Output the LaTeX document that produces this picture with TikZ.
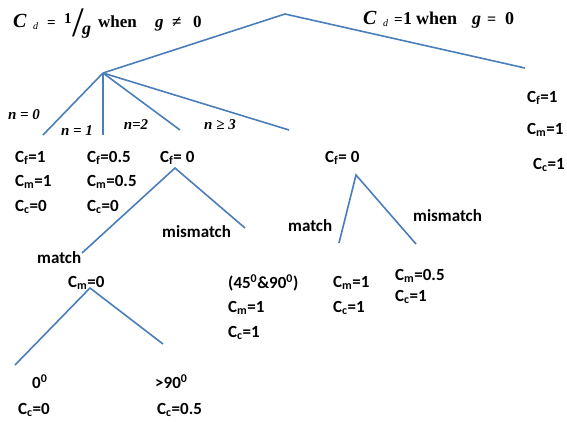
\documentclass[tikz,border=0pt]{standalone}
\usepackage{fontspec}
\setmainfont{Liberation Serif}
\newfontfamily\calfont{Carlito}
\definecolor{treeblue}{RGB}{74,126,187}
\newcommand\Csub[1]{C\textsubscript{#1}}
\begin{document}
\begin{tikzpicture}[x=1pt,y=-1pt,
  lbl/.style={font=\calfont\bfseries\fontsize{17}{19}\selectfont, inner sep=0pt, anchor=west},
  fb/.style={font=\bfseries\fontsize{#1}{#1}\selectfont, inner sep=0pt, anchor=base west},
  fbi/.style={font=\bfseries\itshape\fontsize{#1}{#1}\selectfont, inner sep=0pt, anchor=base west},
  nlb/.style={font=\bfseries\itshape\fontsize{15}{17}\selectfont, inner sep=0pt},
  edge/.style={draw=treeblue, line width=1.6pt}]
\useasboundingbox (0,0) rectangle (567,421);
% tree points
\coordinate (top) at (285,14);
\coordinate (L) at (103,73);
\coordinate (R) at (525,68);
\coordinate (n0) at (43,135);
\coordinate (n1) at (103,135);
\coordinate (n2) at (180,130);
\coordinate (n3) at (289,130);
\coordinate (A) at (175,168);
\coordinate (Am) at (82,253);
\coordinate (Ax) at (245,228);
\coordinate (B) at (90,288);
\coordinate (B0) at (15,365);
\coordinate (B9) at (163,344);
\coordinate (D) at (356,175);
\coordinate (Dm) at (339,243);
\coordinate (Dx) at (416,244);
% edges
\draw[edge] (L) -- (top) -- (R);
\draw[edge] (L) -- (n0);
\draw[edge] (L) -- (n1);
\draw[edge] (L) -- (n2);
\draw[edge] (L) -- (n3);
\draw[edge] (Am) -- (A) -- (Ax);
\draw[edge] (B0) -- (B) -- (B9);
\draw[edge] (Dm) -- (D) -- (Dx);
% left formula
\node[fbi=20] (pC) at (13,27) {C};
\node[font=\itshape\fontsize{10}{10}\selectfont, inner sep=0pt, anchor=base west] (pd) at (33,29) {d};
\node[fb=15] (peq) at (47,27) {=};
\node[fb=15] (p1) at (64,23) {1};
\node[font=\fontsize{42}{42}\selectfont, inner sep=0pt] (psl) at (78,22.5) {/};
\node[fbi=18] (pg) at (82,34) {g};
\node[fb=17] (pw) at (98,27) {when};
\node[fbi=17] (pg2) at (155,27) {g};
\node[fb=17] (pne) at (172,27) {≠};
\node[fb=17] (p0) at (193,27) {0};
% right formula
\node[fbi=20] (qC) at (363,24) {C};
\node[font=\itshape\fontsize{10}{10}\selectfont, inner sep=0pt, anchor=base west] (qd) at (383,26) {d};
\node[fb=15] (qeq) at (394,24) {=};
\node[fb=18] (q1) at (403,24) {1};
\node[fb=18] (qw) at (416,24) {when};
\node[fbi=18] (qg) at (472,24) {g};
\node[fb=16] (qeq2) at (487,24) {=};
\node[fb=18] (q0) at (505,24) {0};
% n labels
\node[nlb] (l0) at (24,115) {n = 0};
\node[nlb] (l1) at (77,131) {n = 1};
\node[nlb] (l2) at (136,125) {n=2};
\node[nlb] (l3) at (220,125) {n ≥ 3};
% leaf columns
\node[lbl] (a1) at (15,158) {\Csub{f}=1};
\node[lbl] (a2) at (15,182) {\Csub{m}=1};
\node[lbl] (a3) at (15,207) {\Csub{c}=0};
\node[lbl] (b1) at (87,158) {\Csub{f}=0.5};
\node[lbl] (b2) at (87,182) {\Csub{m}=0.5};
\node[lbl] (b3) at (87,207) {\Csub{c}=0};
\node[lbl] (c1) at (160,158) {\Csub{f}= 0};
\node[lbl] (mA) at (37,258) {match};
\node[lbl] (xA) at (162,232) {mismatch};
\node[lbl] (cm0) at (68,283) {\Csub{m}=0};
\node[lbl] (e1) at (228,283) {(45\textsuperscript{0}\&90\textsuperscript{0})};
\node[lbl] (e2) at (228,308) {\Csub{m}=1};
\node[lbl] (e3) at (228,333) {\Csub{c}=1};
\node[lbl] (g1) at (32,382) {0\textsuperscript{0}};
\node[lbl] (g2) at (18,410) {\Csub{c}=0};
\node[lbl] (h1) at (155,382) {>90\textsuperscript{0}};
\node[lbl] (h2) at (157,410) {\Csub{c}=0.5};
\node[lbl] (d1) at (325,158) {\Csub{f}= 0};
\node[lbl] (mD) at (288,226) {match};
\node[lbl] (xD) at (413,216) {mismatch};
\node[lbl] (i1) at (333,283) {\Csub{m}=1};
\node[lbl] (i2) at (333,308) {\Csub{c}=1};
\node[lbl] (j1) at (395,276) {\Csub{m}=0.5};
\node[lbl] (j2) at (395,297) {\Csub{c}=1};
\node[lbl] (r1) at (527,98) {\Csub{f}=1};
\node[lbl] (r2) at (527,130) {\Csub{m}=1};
\node[lbl] (r3) at (533,165) {\Csub{c}=1};
\end{tikzpicture}
\end{document}
